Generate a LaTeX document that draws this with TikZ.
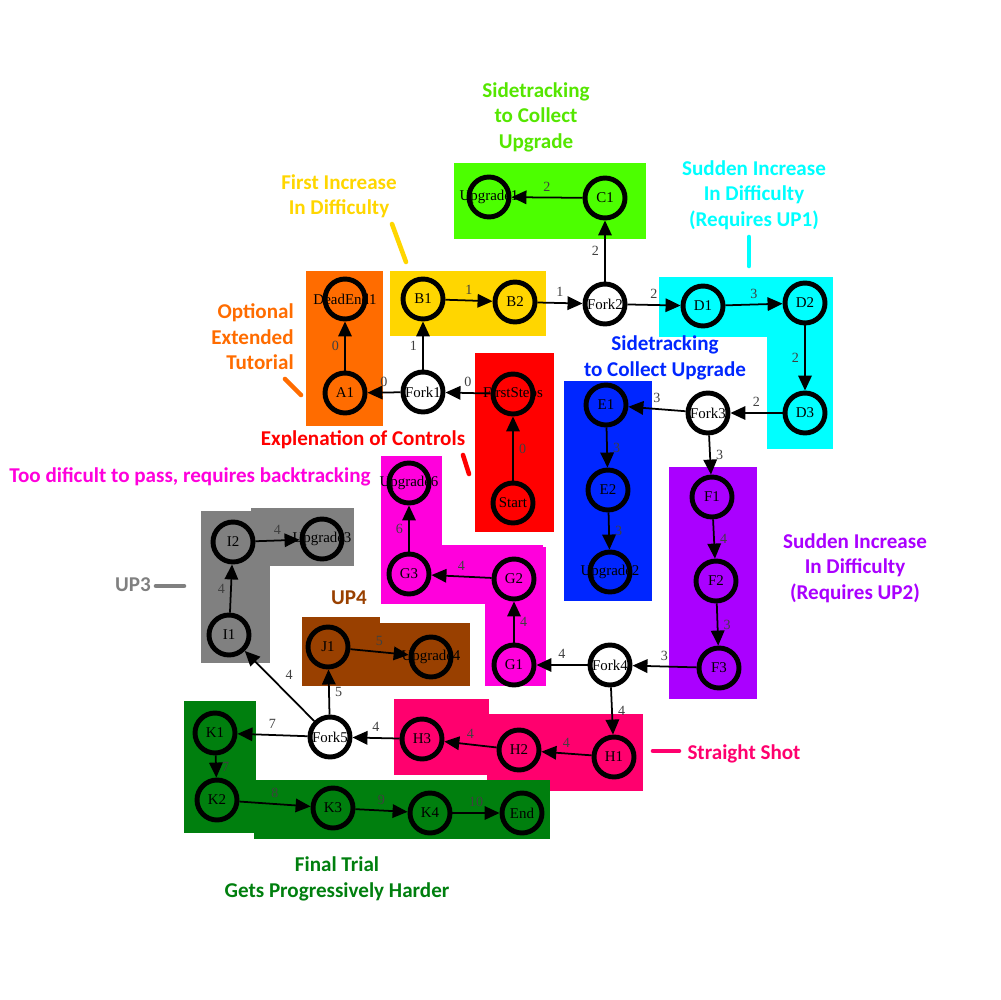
\documentclass[tikz,border=0pt]{standalone}
\usepackage{fontspec}
\setmainfont{Liberation Serif}
\newfontfamily\notefont{Carlito}
\usetikzlibrary{arrows.meta}
\definecolor{tutOrange}{RGB}{255,108,0}
\definecolor{incYellow}{RGB}{255,214,0}
\definecolor{ctrlRed}{RGB}{255,0,0}
\definecolor{upLime}{RGB}{76,255,0}
\definecolor{upLimeText}{RGB}{85,230,0}
\definecolor{hardCyan}{RGB}{0,255,255}
\definecolor{upBlue}{RGB}{0,38,255}
\definecolor{hardPurple}{RGB}{170,0,255}
\definecolor{backMagenta}{RGB}{255,0,220}
\definecolor{upGray}{RGB}{128,128,128}
\definecolor{upBrown}{RGB}{153,64,0}
\definecolor{shotPink}{RGB}{255,0,110}
\definecolor{finalGreen}{RGB}{0,127,14}
\newcommand\rn[1]{\makebox[0pt]{#1}}

\begin{document}
\begin{tikzpicture}[x=0.02cm,y=-0.02cm,
  room/.style={circle,draw,line width=2.8pt,minimum size=0.8cm,inner sep=0pt,
    font=\fontsize{8.5}{8.5}\selectfont},
  fork/.style={room,fill=white},
  edge/.style={-{Triangle[length=0.3cm,width=0.27cm]},line width=1pt},
  cost/.style={font=\fontsize{8}{8}\selectfont,text=black!75,inner sep=3pt},
  note/.style={font=\notefont\bfseries\fontsize{12}{14.5}\selectfont,align=center,inner sep=0pt},
  tick/.style={line width=2.6pt,line cap=round}]
  \useasboundingbox (0,0) rectangle (1000,1000);

  % areas
  \fill[tutOrange] (306,271) rectangle (383,426);
  \fill[incYellow] (390,271) rectangle (546,336);
  \fill[ctrlRed] (475,353) rectangle (554,532);
  \fill[upLime] (454,163) rectangle (646,239);
  \fill[hardCyan] (659,277) rectangle (833,337);
  \fill[hardCyan] (767,277) rectangle (833,449);
  \fill[upBlue] (564,381) rectangle (652,601);
  \fill[hardPurple] (669,467) rectangle (757,699);
  \fill[backMagenta] (381,456) rectangle (442,604);
  \fill[backMagenta] (381,545) rectangle (543,604);
  \fill[backMagenta] (485,547) rectangle (546,686);
  \fill[upGray] (201,511) rectangle (270,663);
  \fill[upGray] (251,508) rectangle (354,566);
  \fill[upBrown] (302,617) rectangle (380,686);
  \fill[upBrown] (302,623) rectangle (470,686);
  \fill[shotPink] (394,699) rectangle (489,775);
  \fill[shotPink] (487,714) rectangle (643,791);
  \fill[finalGreen] (184,701) rectangle (256,833);
  \fill[finalGreen] (254,780) rectangle (550,839);

  % rooms
  \node[room] (dead1) at (345,299) {\rn{DeadEnd1}};
  \node[room] (b1) at (423,299) {\rn{B1}};
  \node[room] (b2) at (515,302) {\rn{B2}};
  \node[fork] (fork2) at (605,304) {\rn{Fork2}};
  \node[room] (c1) at (605,198) {\rn{C1}};
  \node[room] (up1) at (489,197) {\rn{Upgrade1}};
  \node[room] (d1) at (703,306) {\rn{D1}};
  \node[room] (d2) at (805,303) {\rn{D2}};
  \node[room] (d3) at (805,413) {\rn{D3}};
  \node[room] (a1) at (345,393) {\rn{A1}};
  \node[fork] (fork1) at (423,392) {\rn{Fork1}};
  \node[room] (first) at (513,394) {\rn{FirstSteps}};
  \node[room] (start) at (513,503) {\rn{Start}};
  \node[fork] (fork3) at (708,413) {\rn{Fork3}};
  \node[room] (e1) at (606,405) {\rn{E1}};
  \node[room] (e2) at (608,490) {\rn{E2}};
  \node[room] (up2) at (610,572) {\rn{Upgrade2}};
  \node[room] (f1) at (712,497) {\rn{F1}};
  \node[room] (f2) at (716,581) {\rn{F2}};
  \node[room] (f3) at (719,668) {\rn{F3}};
  \node[fork] (fork4) at (610,665) {\rn{Fork4}};
  \node[room] (g1) at (514,665) {\rn{G1}};
  \node[room] (g2) at (514,579) {\rn{G2}};
  \node[room] (g3) at (409,574) {\rn{G3}};
  \node[room] (up6) at (409,483) {\rn{Upgrade6}};
  \node[room] (i1) at (229,635) {\rn{I1}};
  \node[room] (i2) at (233,542) {\rn{I2}};
  \node[room] (up3) at (322,539) {\rn{Upgrade3}};
  \node[room] (j1) at (328,647) {\rn{J1}};
  \node[room] (up4) at (431,657) {\rn{Upgrade4}};
  \node[fork] (fork5) at (330,737) {\rn{Fork5}};
  \node[room] (h3) at (422,739) {\rn{H3}};
  \node[room] (h2) at (519,750) {\rn{H2}};
  \node[room] (h1) at (614,757) {\rn{H1}};
  \node[room] (k1) at (215,733) {\rn{K1}};
  \node[room] (k2) at (217,800) {\rn{K2}};
  \node[room] (k3) at (333,808) {\rn{K3}};
  \node[room] (k4) at (430,813) {\rn{K4}};
  \node[room] (end) at (522,813) {\rn{End}};

  % paths
  \draw[edge] (start) -- node[cost,right] {0} (first);
  \draw[edge] (first) -- node[cost,above] {0} (fork1);
  \draw[edge] (fork1) -- node[cost,above] {0} (a1);
  \draw[edge] (a1) -- node[cost,left] {0} (dead1);
  \draw[edge] (fork1) -- node[cost,left] {1} (b1);
  \draw[edge] (b1) -- node[cost,above] {1} (b2);
  \draw[edge] (b2) -- node[cost,above] {1} (fork2);
  \draw[edge] (fork2) -- node[cost,left] {2} (c1);
  \draw[edge] (c1) -- node[cost,above] {2} (up1);
  \draw[edge] (fork2) -- node[cost,above] {2} (d1);
  \draw[edge] (d1) -- node[cost,above] {3} (d2);
  \draw[edge] (d2) -- node[cost,left] {2} (d3);
  \draw[edge] (d3) -- node[cost,above] {2} (fork3);
  \draw[edge] (fork3) -- node[cost,above] {3} (e1);
  \draw[edge] (e1) -- node[cost,right] {3} (e2);
  \draw[edge] (e2) -- node[cost,right] {3} (up2);
  \draw[edge] (fork3) -- node[cost,right] {3} (f1);
  \draw[edge] (f1) -- node[cost,right] {4} (f2);
  \draw[edge] (f2) -- node[cost,right] {3} (f3);
  \draw[edge] (f3) -- node[cost,above] {3} (fork4);
  \draw[edge] (fork4) -- node[cost,above] {4} (g1);
  \draw[edge] (g1) -- node[cost,right] {4} (g2);
  \draw[edge] (g2) -- node[cost,above] {4} (g3);
  \draw[edge] (g3) -- node[cost,left] {6} (up6);
  \draw[edge] (fork4) -- node[cost,right] {4} (h1);
  \draw[edge] (h1) -- node[cost,above] {4} (h2);
  \draw[edge] (h2) -- node[cost,above] {4} (h3);
  \draw[edge] (h3) -- node[cost,above] {4} (fork5);
  \draw[edge] (fork5) -- node[cost,above right] {4} (i1);
  \draw[edge] (i1) -- node[cost,left] {4} (i2);
  \draw[edge] (i2) -- node[cost,above] {4} (up3);
  \draw[edge] (fork5) -- node[cost,right] {5} (j1);
  \draw[edge] (j1) -- node[cost,above] {5} (up4);
  \draw[edge] (fork5) -- node[cost,above] {7} (k1);
  \draw[edge] (k1) -- node[cost,right] {7} (k2);
  \draw[edge] (k2) -- node[cost,above] {8} (k3);
  \draw[edge] (k3) -- node[cost,above] {9} (k4);
  \draw[edge] (k4) -- node[cost,above] {10} (end);

  % notes
  \node[note,text=upLimeText] (nUp1) at (536,117) {Sidetracking\\to Collect\\Upgrade};
  \node[note,text=incYellow] (nInc) at (339,196) {First Increase\\In Difficulty};
  \draw[tick,incYellow] (392,224) -- (406,262);
  \node[note,text=hardCyan] (nHard1) at (754,195) {Sudden Increase\\In Difficulty\\(Requires UP1)};
  \draw[tick,hardCyan] (749,237) -- (749,266);
  \node[note,text=tutOrange,align=right,anchor=east] (nTut) at (294,337) {Optional\\Extended\\Tutorial};
  \draw[tick,tutOrange] (285,379) -- (301,395);
  \node[note,text=upBlue] (nUp2) at (665,358) {Sidetracking\\to Collect Upgrade};
  \node[note,text=ctrlRed] (nCtrl) at (363,440) {Explenation of Controls};
  \draw[tick,ctrlRed] (463,455) -- (469,474);
  \node[note,text=backMagenta] (nBack) at (190,477) {Too dificult to pass, requires backtracking};
  \node[note,text=upGray] (nUp3) at (133,585) {UP3};
  \draw[tick,upGray] (156,586) -- (184,586);
  \node[note,text=upBrown] (nUp4) at (349,598) {UP4};
  \node[note,text=hardPurple] (nHard2) at (855,568) {Sudden Increase\\In Difficulty\\(Requires UP2)};
  \draw[tick,shotPink] (653,751) -- (679,751);
  \node[note,text=shotPink] (nShot) at (744,754) {Straight Shot};
  \node[note,text=finalGreen] (nFinal) at (337,879) {Final Trial\\Gets Progressively Harder};
\end{tikzpicture}
\end{document}
